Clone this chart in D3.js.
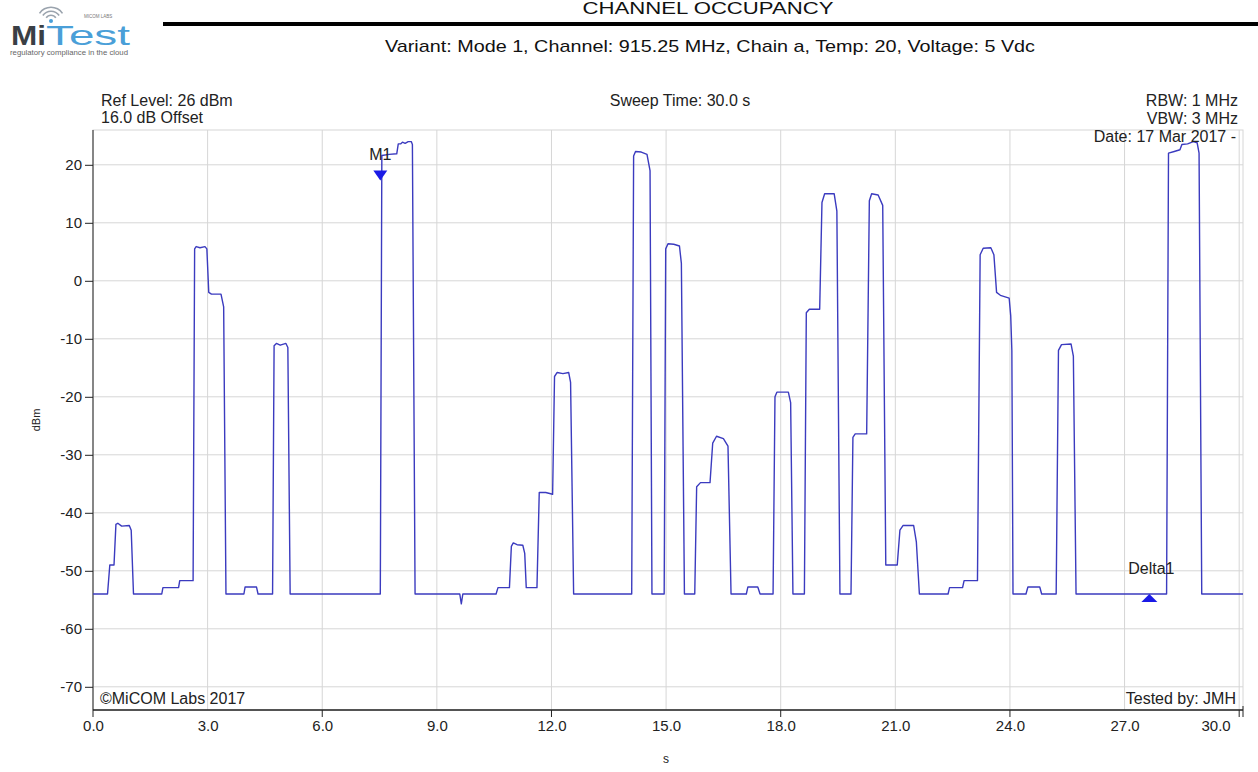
<!DOCTYPE html>
<html>
<head>
<meta charset="utf-8">
<title>Channel Occupancy</title>
<script src="https://cdn.jsdelivr.net/npm/d3@7"></script>
<style>
  html, body { margin: 0; padding: 0; background: #fff; }
  svg { display: block; font-family: "Liberation Sans", Arial, sans-serif; }
</style>
</head>
<body>
<svg id="chart" width="1258" height="772"></svg>
<script>
// sweep trace (s, dBm)
var sweepTime = [
  0, 0.38, 0.44, 0.55, 0.60, 0.65, 0.75, 0.95, 1.00, 1.06,
  1.80, 1.83, 2.24, 2.27, 2.62, 2.66, 2.70, 2.80, 2.93, 2.98, 3.03, 3.10, 3.35, 3.42, 3.48,
  3.95, 3.98, 4.28, 4.32,
  4.70, 4.74, 4.80, 4.90, 5.05, 5.10, 5.16,
  7.52, 7.56, 7.75, 7.95, 7.99, 8.05, 8.10, 8.17, 8.25, 8.33, 8.36, 8.43,
  9.60, 9.64, 9.68,
  10.55, 10.60, 10.90, 10.95, 11.00, 11.10, 11.25, 11.30, 11.34,
  11.62, 11.68, 11.85, 12.03, 12.08, 12.15, 12.30, 12.45, 12.50, 12.58,
  14.10, 14.15, 14.20, 14.35, 14.50, 14.58, 14.63,
  14.95, 14.99, 15.05, 15.20, 15.35, 15.40, 15.48,
  15.75, 15.80, 15.90, 16.15, 16.22, 16.32, 16.50, 16.62, 16.70,
  17.10, 17.14, 17.40, 17.46,
  17.80, 17.85, 17.90, 18.20, 18.26, 18.32,
  18.62, 18.67, 18.75, 19.02, 19.08, 19.15, 19.40, 19.47, 19.55,
  19.84, 19.89, 19.95, 20.25, 20.32, 20.38, 20.55, 20.67, 20.75,
  21.05, 21.12, 21.20, 21.48, 21.55, 21.63,
  22.38, 22.42, 22.76, 22.80, 23.15, 23.22, 23.30, 23.50, 23.58, 23.65, 23.75, 23.98, 24.02, 24.05, 24.08,
  24.42, 24.47, 24.78, 24.83,
  25.21, 25.27, 25.35, 25.60, 25.66, 25.73,
  28.10, 28.15, 28.30, 28.45, 28.50, 28.65, 28.80, 28.90, 28.95, 29.02,
  30.1
];
var levelDbm = [
  -54, -54, -49, -49, -42, -41.8, -42.3, -42.2, -43, -54,
  -54, -52.9, -52.9, -51.7, -51.7, 5.5, 5.9, 5.7, 5.9, 5.5, -2.0, -2.3, -2.3, -4.5, -54,
  -54, -52.8, -52.8, -54,
  -54, -11.2, -10.8, -11.1, -10.8, -11.5, -54,
  -54, 21.6, 21.8, 21.9, 23.6, 23.6, 23.9, 23.7, 24.0, 24.0, 23.5, -54,
  -54, -55.7, -54,
  -54, -52.9, -52.9, -45.8, -45.2, -45.5, -45.6, -47, -52.9,
  -52.9, -36.5, -36.5, -36.8, -16.5, -15.8, -16.0, -15.8, -17.5, -54,
  -54, 21.5, 22.3, 22.2, 21.8, 19, -54,
  -54, 5.5, 6.4, 6.3, 6.0, 3, -54,
  -54, -35.5, -34.8, -34.8, -28.0, -26.8, -27.2, -28.5, -54,
  -54, -52.8, -52.8, -54,
  -54, -20, -19.2, -19.2, -21, -54,
  -54, -5.5, -4.9, -4.9, 13.5, 15.0, 15.0, 12, -54,
  -54, -27, -26.4, -26.4, 13.8, 15.0, 14.8, 13, -49.0,
  -49.0, -43, -42.2, -42.2, -45, -54,
  -54, -52.9, -52.9, -51.7, -51.7, 4.5, 5.6, 5.7, 4.5, -2.0, -2.5, -3.0, -6, -12, -54,
  -54, -52.8, -52.8, -54,
  -54, -12, -11.0, -10.9, -13, -54,
  -54, 22.0, 22.3, 22.6, 23.5, 23.6, 24.0, 23.8, 22, -54,
  -54
];

var xTicks = [0, 3, 6, 9, 12, 15, 18, 21, 24, 27, 30];
var xMajorTicks = [0, 6, 12, 18, 24, 30];
var yTicks = [20, 10, 0, -10, -20, -30, -40, -50, -60, -70];

var markerNames = ["M1", "Delta1"];
var markerTime = [7.52, 27.65];
var markerLevel = [17.3, -54];

(function() {
  'use strict';

  var svg = d3.select("#chart");
  var margin = {top: 130, right: 15, bottom: 62, left: 93},
    width = 1258 - margin.left - margin.right,
    height = 772 - margin.top - margin.bottom;

  var x = d3.scaleLinear().domain([0, 30.1]).range([0, width]);
  var y = d3.scaleLinear().domain([-74, 26]).range([height, 0]);

  drawHeader();

  var g = svg.append("g")
    .attr("transform", "translate(" + margin.left + "," + margin.top + ")");

  // grid
  g.append("g")
    .selectAll("line.h")
    .data(yTicks)
    .join("line")
    .attr("x1", 0).attr("x2", width)
    .attr("y1", function(d) { return y(d); })
    .attr("y2", function(d) { return y(d); })
    .attr("stroke", "#d6d6d6");

  g.append("g")
    .selectAll("line.v")
    .data(xTicks.slice(1))
    .join("line")
    .attr("y1", 0).attr("y2", height)
    .attr("x1", function(d) { return x(d); })
    .attr("x2", function(d) { return x(d); })
    .attr("stroke", "#d6d6d6");

  g.append("rect")
    .attr("width", width).attr("height", height)
    .attr("fill", "none").attr("stroke", "#d6d6d6");

  // axes (plain hyphen for negatives, like the analyzer)
  var yAxis = g.append("g")
    .call(d3.axisLeft(y).tickValues(yTicks).tickSize(8).tickPadding(3)
      .tickFormat(function(d) { return String(d); }));
  yAxis.select(".domain").attr("d", "M0," + height + "V0").attr("stroke", "#222");
  yAxis.selectAll(".tick line").attr("stroke", "#222");
  yAxis.selectAll("text")
    .style("font-family", "Liberation Sans, Arial, sans-serif")
    .style("font-size", "15px").attr("fill", "#222");

  var xAxis = g.append("g")
    .attr("transform", "translate(0," + height + ")")
    .call(d3.axisBottom(x).tickValues(xTicks).tickSize(0).tickPadding(10)
      .tickFormat(function(d) { return d.toFixed(1); }));
  xAxis.select(".domain").attr("d", "M0,0H" + width).attr("stroke", "#222").attr("stroke-width", 1.5);
  xAxis.selectAll("text")
    .style("font-family", "Liberation Sans, Arial, sans-serif")
    .style("font-size", "15px").attr("fill", "#222");
  xAxis.selectAll(".tick").filter(function(d) { return d === 30; })
    .select("text").attr("text-anchor", "end").attr("dx", "-9");

  g.append("g")
    .selectAll("line")
    .data(xMajorTicks)
    .join("line")
    .attr("x1", function(d) { return x(d); })
    .attr("x2", function(d) { return x(d); })
    .attr("y1", height).attr("y2", height + 7)
    .attr("stroke", "#222");

  g.append("line")
    .attr("x1", width).attr("x2", width)
    .attr("y1", height - 4).attr("y2", height + 7)
    .attr("stroke", "#222");

  // trace
  var points = sweepTime.map(function(t, i) { return [t, levelDbm[i]]; });
  var line = d3.line()
    .x(function(d) { return x(d[0]); })
    .y(function(d) { return y(d[1]); });

  g.append("path")
    .datum(points)
    .attr("d", line)
    .attr("fill", "none")
    .attr("stroke", "#3b3bbf")
    .attr("stroke-width", 1.4)
    .attr("stroke-linejoin", "round");

  // markers
  markerNames.forEach(function(name, i) {
    var mx = x(markerTime[i]), my = y(markerLevel[i]);
    var down = name === "M1";
    var tri = down
      ? [[mx - 7, my - 10], [mx + 7, my - 10], [mx, my]]
      : [[mx - 8, my + 8], [mx + 8, my + 8], [mx, my]];
    g.append("path")
      .attr("d", "M" + tri.join("L") + "Z")
      .attr("fill", "#1a1ae6");
    g.append("text")
      .attr("x", mx + (down ? 0 : 2))
      .attr("y", my - 20)
      .attr("text-anchor", "middle")
      .attr("font-size", 16)
      .attr("fill", "#222")
      .text(name);
  });

  // plot annotations
  var notes = [
    {t: "Ref Level: 26 dBm", x: 8, y: -24, a: "start"},
    {t: "16.0 dB Offset", x: 8, y: -7, a: "start"},
    {t: "Sweep Time: 30.0 s", x: 587, y: -24, a: "middle"},
    {t: "RBW: 1 MHz", x: width - 5, y: -24, a: "end"},
    {t: "VBW: 3 MHz", x: width - 5, y: -6, a: "end"},
    {t: "Date: 17 Mar 2017 -", x: width - 7, y: 12, a: "end"},
    {t: "\u00a9MiCOM Labs 2017", x: 7, y: height - 6, a: "start"},
    {t: "Tested by: JMH", x: width - 7, y: height - 6, a: "end"}
  ];
  g.append("g")
    .selectAll("text")
    .data(notes)
    .join("text")
    .attr("x", function(d) { return d.x; })
    .attr("y", function(d) { return d.y; })
    .attr("text-anchor", function(d) { return d.a; })
    .attr("font-size", 16)
    .attr("fill", "#222")
    .text(function(d) { return d.t; });

  svg.append("text")
    .attr("transform", "translate(40," + (margin.top + height / 2) + ") rotate(-90)")
    .attr("text-anchor", "middle")
    .attr("font-size", 11)
    .attr("fill", "#222")
    .text("dBm");

  svg.append("text")
    .attr("x", margin.left + x(15))
    .attr("y", 763)
    .attr("text-anchor", "middle")
    .attr("font-size", 12)
    .attr("fill", "#222")
    .text("s");

  function drawHeader() {
    svg.append("text")
      .attr("x", 708).attr("y", 14)
      .attr("text-anchor", "middle")
      .attr("font-size", 16)
      .attr("fill", "#111")
      .attr("textLength", 251).attr("lengthAdjust", "spacingAndGlyphs")
      .text("CHANNEL OCCUPANCY");

    svg.append("rect")
      .attr("x", 163).attr("y", 22)
      .attr("width", 1095).attr("height", 4)
      .attr("fill", "#000");

    svg.append("text")
      .attr("x", 710).attr("y", 52)
      .attr("text-anchor", "middle")
      .attr("font-size", 17)
      .attr("fill", "#111")
      .attr("textLength", 650).attr("lengthAdjust", "spacingAndGlyphs")
      .text("Variant: Mode 1, Channel: 915.25 MHz, Chain a, Temp: 20, Voltage: 5 Vdc");

    // MiTest logo
    var logo = svg.append("g");
    [5, 9, 13].forEach(function(r) {
      logo.append("path")
        .attr("d", d3.arc()({innerRadius: r, outerRadius: r + 1.6,
          startAngle: -Math.PI / 3.2, endAngle: Math.PI / 3.2}))
        .attr("transform", "translate(51,21)")
        .attr("fill", "#9aa3ad");
    });
    logo.append("circle").attr("cx", 51).attr("cy", 21).attr("r", 2).attr("fill", "#4a9fd8");
    logo.append("text")
      .attr("x", 11).attr("y", 45)
      .attr("font-size", 28).attr("font-weight", "bold")
      .attr("fill", "#3a3f45")
      .attr("textLength", 35).attr("lengthAdjust", "spacingAndGlyphs")
      .text("Mi");
    logo.append("text")
      .attr("x", 46).attr("y", 45)
      .attr("font-size", 28)
      .attr("fill", "#4a9fd8")
      .attr("textLength", 84).attr("lengthAdjust", "spacingAndGlyphs")
      .text("Test");
    logo.append("text")
      .attr("x", 84).attr("y", 18)
      .attr("font-size", 4.5)
      .attr("fill", "#777")
      .text("MICOM LABS");
    logo.append("text")
      .attr("x", 10).attr("y", 55)
      .attr("font-size", 7)
      .attr("fill", "#666")
      .attr("textLength", 118).attr("lengthAdjust", "spacingAndGlyphs")
      .text("regulatory compliance in the cloud");
  }
}());
</script>
</body>
</html>
